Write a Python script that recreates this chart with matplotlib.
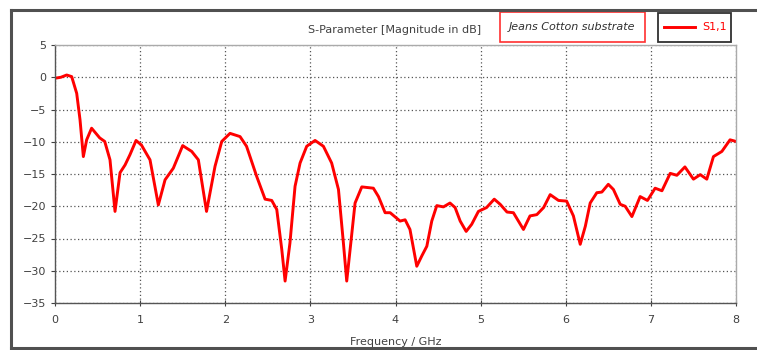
import numpy as np
import matplotlib.pyplot as plt
from matplotlib.lines import Line2D
from matplotlib.patches import Rectangle

# S1,1 magnitude (dB) versus frequency (GHz)
freq = [0.0, 0.07, 0.137, 0.196, 0.255, 0.294, 0.333, 0.372, 0.43, 0.525, 0.584,
        0.646, 0.705, 0.764, 0.823, 0.881, 0.952, 1.015, 1.116, 1.214, 1.293,
        1.39, 1.50, 1.606, 1.684, 1.78, 1.88, 1.959, 2.056, 2.174, 2.25, 2.37,
        2.468, 2.546, 2.605, 2.664, 2.703, 2.76, 2.82, 2.879, 2.957, 3.055,
        3.153, 3.25, 3.33, 3.388, 3.427, 3.475, 3.525, 3.604, 3.74, 3.80, 3.878,
        3.937, 4.054, 4.113, 4.17, 4.25, 4.309, 4.368, 4.426, 4.485, 4.563,
        4.64, 4.70, 4.76, 4.83, 4.895, 4.974, 5.07, 5.16, 5.23, 5.31, 5.385,
        5.503, 5.58, 5.66, 5.74, 5.817, 5.915, 6.01, 6.09, 6.17, 6.23, 6.287,
        6.365, 6.424, 6.50, 6.56, 6.64, 6.698, 6.777, 6.874, 6.96, 7.05, 7.13,
        7.227, 7.305, 7.40, 7.50, 7.58, 7.657, 7.735, 7.834, 7.93, 8.0]
s11_db = [-0.15, 0.0, 0.35, 0.1, -2.5, -6.6, -12.3, -9.7, -7.9, -9.4, -9.95,
          -12.8, -20.8, -14.8, -13.6, -12.0, -9.8, -10.5, -12.8, -19.8, -15.9,
          -14.1, -10.6, -11.5, -12.8, -20.8, -13.8, -9.95, -8.7, -9.2, -10.7,
          -15.4, -18.9, -19.1, -20.5, -26.7, -31.6, -25.7, -16.9, -13.3, -10.7,
          -9.8, -10.7, -13.3, -17.4, -25.7, -31.6, -25.7, -19.5, -17.0, -17.2,
          -18.5, -21.0, -21.0, -22.3, -22.1, -23.6, -29.3, -27.7, -26.2, -22.3,
          -19.9, -20.1, -19.5, -20.2, -22.3, -23.9, -22.8, -20.8, -20.2, -18.9,
          -19.7, -20.9, -21.0, -23.6, -21.5, -21.3, -20.2, -18.2, -19.1, -19.2,
          -21.5, -25.9, -23.1, -19.5, -17.9, -17.8, -16.6, -17.4, -19.7, -20.0,
          -21.6, -18.5, -19.1, -17.2, -17.6, -14.9, -15.2, -13.9, -15.8, -15.1,
          -15.8, -12.3, -11.5, -9.7, -9.95]

x_ticks = [0, 1, 2, 3, 4, 5, 6, 7, 8]
y_ticks = [5, 0, -5, -10, -15, -20, -25, -30, -35]

txt = '#404040'
fig = plt.figure(figsize=(7.57, 3.5), dpi=100)
ax = fig.add_axes([55 / 757, 47 / 350, 681 / 757, 258 / 350])

ax.plot(freq, s11_db, color='#ff0000', lw=2.1, solid_joinstyle='round')
ax.set_xlim(0, 8)
ax.set_ylim(-35, 5)
ax.set_xticks(x_ticks)
ax.set_yticks(y_ticks)
ax.grid(True, color='#555555', linestyle=(0, (1, 2)), lw=0.9)
ax.tick_params(colors=txt, labelsize=8, length=3, width=0.8)
ax.tick_params(axis='x', direction='inout', length=5, pad=6)
for s in ['left', 'bottom']:
    ax.spines[s].set_color('#555555')
    ax.spines[s].set_linewidth(1.0)
for s in ['top', 'right']:
    ax.spines[s].set_color('#aaaaaa')
    ax.spines[s].set_linewidth(1.0)
ax.set_xlabel('Frequency / GHz', fontsize=8, color=txt, labelpad=9)

# outer window frame
fig.add_artist(Line2D([11 / 757, 11 / 757], [2 / 350, 340 / 350], color='#505050', lw=2.2))
fig.add_artist(Line2D([11 / 757, 1.0], [340 / 350, 340 / 350], color='#505050', lw=2.2))
fig.add_artist(Line2D([11 / 757, 1.0], [2 / 350, 2 / 350], color='#505050', lw=2.2))

fig.text(395 / 757, 320 / 350, 'S-Parameter [Magnitude in dB]', ha='center', va='center',
         fontsize=8, color=txt)

# annotation box
fig.add_artist(Rectangle((500 / 757, 308 / 350), 145 / 757, 30 / 350, fill=False,
                         edgecolor='#ff3030', lw=1.2))
fig.text(572 / 757, 323 / 350, 'Jeans Cotton substrate', ha='center', va='center',
         fontsize=8, style='italic', color='#303030')

# legend box
fig.add_artist(Rectangle((658 / 757, 308 / 350), 73 / 757, 29 / 350, fill=False,
                         edgecolor='#303030', lw=1.3))
fig.add_artist(Line2D([664 / 757, 695 / 757], [323 / 350, 323 / 350], color='#ff0000', lw=2.1))
fig.text(702 / 757, 323 / 350, 'S1,1', ha='left', va='center', fontsize=8, color='#ff0000')

fig.savefig('out.png', dpi=100)
